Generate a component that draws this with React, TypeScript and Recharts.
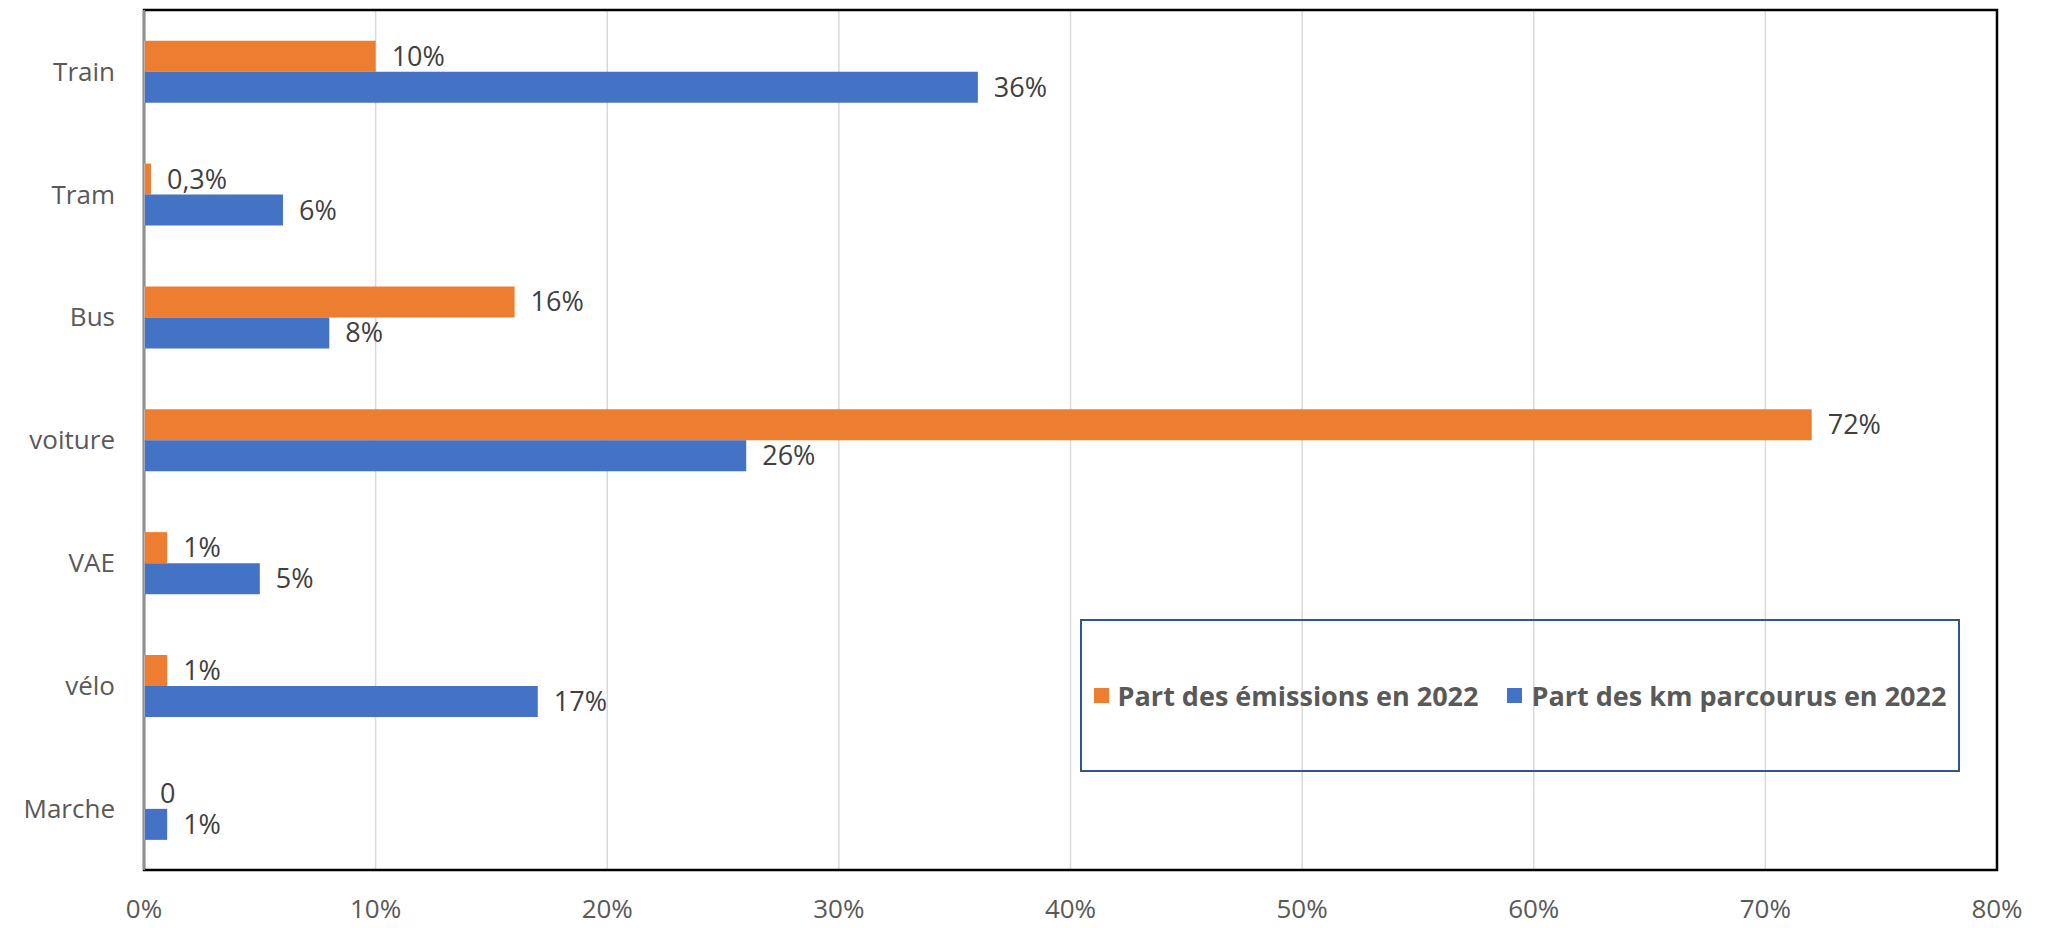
import { BarChart, Bar, XAxis, YAxis, CartesianGrid, Legend, LabelList, ReferenceArea, ReferenceLine } from "recharts";

const modes = ["Train", "Tram", "Bus", "voiture", "VAE", "vélo", "Marche"];
const emissions = [10, 0.3, 16, 72, 1, 1, 0];
const kmShare = [36, 6, 8, 26, 5, 17, 1];
const xTicks = [0, 10, 20, 30, 40, 50, 60, 70, 80];
const seriesNames = ["Part des émissions en 2022", "Part des km parcourus en 2022"];

const ORANGE = "#ED7D31";
const BLUE = "#4472C4";
const FONT = "'Open Sans', sans-serif";

const data = modes.map((m, i) => ({ mode: m, emissions: emissions[i], km: kmShare[i] }));

// 0 reste "0", sinon pourcentage avec virgule
const fmtLabel = (v: any) => (v === 0 ? "0" : `${String(v).replace(".", ",")}%`);

const renderLabel = (p: any) => {
  const x = Number(p.x) + Number(p.width || 0) + 16;
  const y = Number(p.y) + Number(p.height) / 2;
  return (
    <text x={x} y={y} dy="0.35em" fill="#404040" fontSize={27} fontFamily={FONT}>
      {fmtLabel(p.value)}
    </text>
  );
};

const renderLegend = (props: any) => {
  const items = [...(props.payload || [])].sort(
    (a: any, b: any) => seriesNames.indexOf(a.value) - seriesNames.indexOf(b.value)
  );
  return (
    <div style={{ display: "flex", alignItems: "center", gap: 29 }}>
      {items.map((it: any) => (
        <div key={it.value} style={{ display: "flex", alignItems: "center" }}>
          <span style={{ width: 15, height: 15, background: it.color, marginRight: 9, display: "inline-block" }} />
          <span style={{ color: "#595959", fontWeight: 700, fontSize: 27, fontFamily: FONT }}>{it.value}</span>
        </div>
      ))}
    </div>
  );
};

export default function App() {
  return (
    <div style={{ position: "absolute", left: 0, top: 0, width: 2052, height: 928, background: "#fff", fontFamily: FONT }}>
      <BarChart
        width={2052}
        height={928}
        data={data}
        layout="vertical"
        margin={{ top: 10, right: 55, bottom: 0, left: 0 }}
        barCategoryGap="25%"
        barGap={0}
      >
        <CartesianGrid horizontal={false} stroke="#D9D9D9" strokeWidth={1.5} />
        <XAxis
          type="number"
          domain={[0, 80]}
          ticks={xTicks}
          tickFormatter={(v) => `${v}%`}
          tickLine={false}
          axisLine={false}
          tickMargin={24}
          height={58}
          tick={{ fill: "#595959", fontSize: 26, fontFamily: FONT }}
          interval={0}
        />
        <YAxis
          type="category"
          dataKey="mode"
          width={144}
          tickLine={false}
          axisLine={false}
          tickMargin={23}
          tick={{ fill: "#595959", fontSize: 26, fontFamily: FONT }}
        />
        <ReferenceArea x1={0} x2={80} fill="none" fillOpacity={0} stroke="#000" strokeWidth={2.5} />
        <ReferenceLine x={0} stroke="#BFBFBF" strokeWidth={1.5} />
        <Legend
          layout="horizontal"
          verticalAlign="middle"
          align="center"
          content={renderLegend}
          wrapperStyle={{
            left: 1080,
            top: 619,
            width: 880,
            height: 153,
            border: "2px solid #2F5597",
            boxSizing: "border-box",
            display: "flex",
            alignItems: "center",
            justifyContent: "center",
          }}
        />
        <Bar dataKey="emissions" name={seriesNames[0]} fill={ORANGE} minPointSize={0.01} isAnimationActive={false}>
          <LabelList dataKey="emissions" content={renderLabel} />
        </Bar>
        <Bar dataKey="km" name={seriesNames[1]} fill={BLUE} isAnimationActive={false}>
          <LabelList dataKey="km" content={renderLabel} />
        </Bar>
      </BarChart>
    </div>
  );
}
